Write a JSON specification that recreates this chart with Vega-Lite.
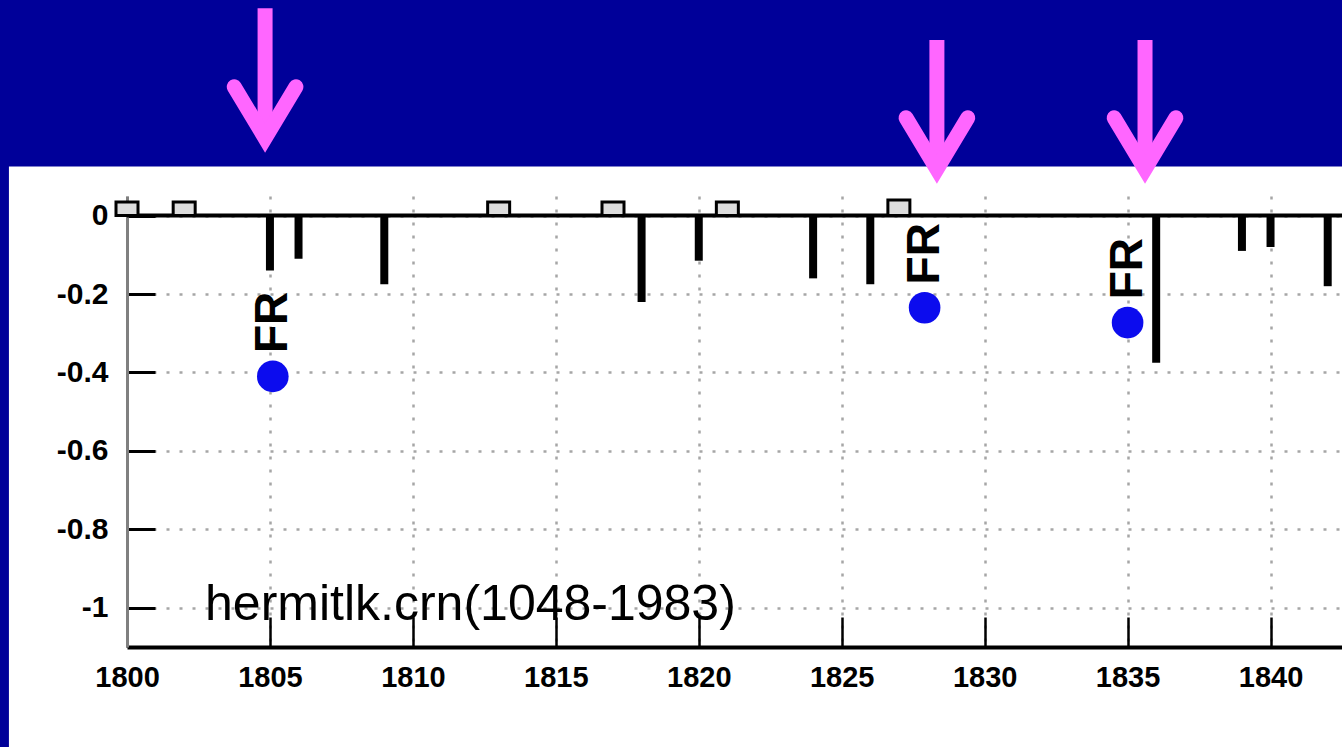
{
  "$schema": "https://vega.github.io/schema/vega-lite/v6.json",
  "width": 1215,
  "height": 451,
  "autosize": {"type": "none"},
  "padding": {"left": 127, "top": 196, "right": 0, "bottom": 100},
  "background": "white",
  "config": {"view": {"stroke": null}, "font": "Liberation Sans"},
  "datasets": {
    "series": [
      {"year": 1800, "v": 0.035},
      {"year": 1802, "v": 0.035},
      {"year": 1805, "v": -0.14},
      {"year": 1806, "v": -0.11},
      {"year": 1809, "v": -0.175},
      {"year": 1813, "v": 0.035},
      {"year": 1817, "v": 0.035},
      {"year": 1818, "v": -0.22},
      {"year": 1820, "v": -0.115},
      {"year": 1821, "v": 0.035},
      {"year": 1824, "v": -0.16},
      {"year": 1826, "v": -0.175},
      {"year": 1827, "v": 0.04},
      {"year": 1836, "v": -0.375},
      {"year": 1839, "v": -0.09},
      {"year": 1840, "v": -0.08},
      {"year": 1842, "v": -0.18}
    ],
    "events": [
      {"year": 1805.1, "v": -0.41, "label": "FR"},
      {"year": 1827.9, "v": -0.235, "label": "FR"},
      {"year": 1835, "v": -0.273, "label": "FR"}
    ],
    "arrows": [
      {"year": 1804.83, "top": 0.529, "end": 0.199, "head": 0.263},
      {"year": 1828.33, "top": 0.448, "end": 0.121, "head": 0.184},
      {"year": 1835.61, "top": 0.448, "end": 0.121, "head": 0.184}
    ],
    "caption": [{"text": "hermitlk.crn(1048-1983)"}]
  },
  "layer": [
    {
      "data": {"name": "series"},
      "transform": [{"filter": "datum.v < 0"}],
      "mark": {"type": "bar", "color": "black", "size": 8},
      "encoding": {
        "x": {
          "field": "year", "type": "quantitative",
          "scale": {"domain": [1800, 1842.5], "nice": false, "zero": false, "padding": 0},
          "axis": {
            "values": [1800, 1805, 1810, 1815, 1820, 1825, 1830, 1835, 1840],
            "format": "d", "title": null,
            "labelFont": "Liberation Sans", "labelFontSize": 29, "labelFontWeight": "bold", "labelColor": "black",
            "labelPadding": 46, "labelFlush": false, "labelOverlap": false,
            "domainColor": "black", "domainWidth": 4,
            "tickColor": "black", "tickWidth": 2.5, "tickSize": -30,
            "grid": true, "gridColor": "#888888", "gridDash": [3, 10], "gridWidth": 2.5, "gridOpacity": 0.75
          }
        },
        "y": {
          "field": "v", "type": "quantitative",
          "scale": {"domain": [-1.1, 0.05], "nice": false, "zero": false, "padding": 0},
          "axis": {
            "values": [0, -0.2, -0.4, -0.6, -0.8, -1],
            "labelExpr": "toString(datum.value)", "title": null,
            "labelFont": "Liberation Sans", "labelFontSize": 30, "labelFontWeight": "bold", "labelColor": "black",
            "labelPadding": 47, "labelOverlap": false,
            "domainColor": "#808080", "domainWidth": 3,
            "tickColor": "black", "tickWidth": 3, "tickSize": -28,
            "grid": true, "gridColor": "#888888", "gridDash": [3, 10], "gridWidth": 2.5, "gridOpacity": 0.75
          }
        },
        "y2": {"datum": 0}
      }
    },
    {
      "data": {"values": [{}]},
      "mark": {"type": "rect", "color": "#000099"},
      "encoding": {
        "x": {"datum": 1790, "type": "quantitative"},
        "x2": {"datum": 1850},
        "y": {"datum": 0.125, "type": "quantitative"},
        "y2": {"datum": 0.8}
      }
    },
    {
      "data": {"values": [{}]},
      "mark": {"type": "rect", "color": "#000099"},
      "encoding": {
        "x": {"datum": 1790, "type": "quantitative"},
        "x2": {"datum": 1795.87},
        "y": {"datum": 0.8, "type": "quantitative"},
        "y2": {"datum": -1.6}
      }
    },
    {
      "data": {"name": "arrows"},
      "mark": {"type": "rule", "color": "#FF66FF", "strokeWidth": 15, "strokeCap": "butt"},
      "encoding": {
        "x": {"field": "year", "type": "quantitative"},
        "y": {"field": "top", "type": "quantitative"},
        "y2": {"field": "end"}
      }
    },
    {
      "data": {"name": "arrows"},
      "mark": {"type": "point", "shape": "M-1,-0.833L0,0.833L1,-0.833", "filled": false, "color": "#FF66FF", "stroke": "#FF66FF", "strokeWidth": 15, "strokeCap": "round", "strokeJoin": "miter", "size": 3800, "opacity": 1},
      "encoding": {
        "x": {"field": "year", "type": "quantitative"},
        "y": {"field": "head", "type": "quantitative"}
      }
    },
    {
      "data": {"values": [{}]},
      "mark": {"type": "rule", "color": "black", "strokeWidth": 4},
      "encoding": {
        "y": {"datum": 0, "type": "quantitative"}
      }
    },
    {
      "data": {"name": "series"},
      "transform": [{"filter": "datum.v > 0"}],
      "mark": {"type": "bar", "fill": "#dddddd", "stroke": "black", "strokeWidth": 3, "size": 22},
      "encoding": {
        "x": {"field": "year", "type": "quantitative"},
        "y": {"field": "v", "type": "quantitative"},
        "y2": {"datum": 0}
      }
    },
    {
      "data": {"name": "events"},
      "mark": {"type": "point", "filled": true, "color": "#0c0cee", "size": 1000, "opacity": 1},
      "encoding": {
        "x": {"field": "year", "type": "quantitative"},
        "y": {"field": "v", "type": "quantitative"}
      }
    },
    {
      "data": {"name": "events"},
      "mark": {"type": "text", "angle": 270, "dx": 54, "align": "center", "baseline": "middle", "font": "Liberation Sans", "fontSize": 46, "fontWeight": "bold", "color": "black"},
      "encoding": {
        "x": {"field": "year", "type": "quantitative"},
        "y": {"field": "v", "type": "quantitative"},
        "text": {"field": "label"}
      }
    },
    {
      "data": {"name": "caption"},
      "mark": {"type": "text", "align": "left", "baseline": "alphabetic", "font": "Liberation Sans", "fontSize": 50, "color": "black"},
      "encoding": {
        "x": {"datum": 1802.73, "type": "quantitative"},
        "y": {"datum": -1.031, "type": "quantitative"},
        "text": {"field": "text"}
      }
    }
  ]
}
